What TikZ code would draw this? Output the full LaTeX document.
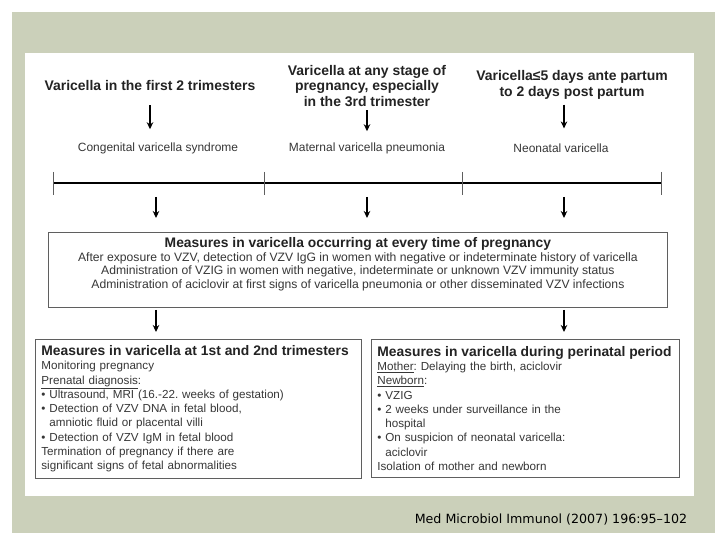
\documentclass[tikz,border=0pt]{standalone}
\usepackage{fontspec}
\setmainfont{Liberation Sans}
\newfontfamily\citefont{DejaVu Sans}
\usetikzlibrary{arrows.meta}
\frenchspacing
\definecolor{sage}{RGB}{203,208,186}
\definecolor{inkgray}{RGB}{35,35,35}
\definecolor{textgray}{RGB}{55,55,55}
\definecolor{framegray}{RGB}{95,95,95}
\tikzset{
  heading/.style={font=\fontsize{14}{16}\selectfont\bfseries, text=inkgray, align=center, inner sep=0pt},
  effect/.style={font=\fontsize{12}{14}\selectfont, text=textgray, inner sep=0pt},
  measurebox/.style={draw=framegray, line width=0.8bp, fill=white, text=textgray},
  arr/.style={-{Stealth[length=7bp,width=6.5bp]}, line width=1.6bp, black},
}
\newcommand{\boxtitle}[1]{{\fontsize{13.9}{15}\selectfont\bfseries\color{inkgray}#1}}
\begin{document}
\begin{tikzpicture}[x=1bp,y=-1bp,line cap=butt]
\useasboundingbox (0,0) rectangle (728,546);
\fill[white] (0,0) rectangle (728,546);
\fill[sage] (12,12) rectangle (715,533);
\fill[white] (25,53) rectangle (694,496);
% headings and effects
\node[heading] (h1) at (150,86) {Varicella in the first 2 trimesters};
\node[heading] (h2) at (367,86) {Varicella at any stage of\\pregnancy, especially\\in the 3rd trimester};
\node[heading] (h3) at (572,85) {Varicella≤5 days ante partum\\to 2 days post partum};
\node[effect] (s1) at (158,148) {Congenital varicella syndrome};
\node[effect] (s2) at (367,148) {Maternal varicella pneumonia};
\node[effect] (s3) at (561,148) {Neonatal varicella};
\draw[arr, shorten <=14bp, shorten >=13bp] (h1.south) -- (h1.south |- s1.north);
\draw[arr, shorten <=3bp, shorten >=11bp] (h2.south) -- (h2.south |- s2.north);
\draw[arr, shorten <=5bp, shorten >=15bp] ([xshift=-8bp]h3.south) -- ([xshift=-8bp]h3.south |- s3.north);
% time line
\path
(53,183) coordinate (t0)
(264,183) coordinate (t1)
(462,183) coordinate (t2)
(661,183) coordinate (t3)
(156,183) coordinate (d1)
(367,183) coordinate (d2)
(564,183) coordinate (d3)
;
\draw[line width=2.4bp] (t0) -- (t3);
\foreach \t in {t0,t1,t2,t3}
\draw[framegray, line width=0.8bp] ([yshift=11bp]\t) -- ([yshift=-12bp]\t);
% measures
\node[measurebox, anchor=north west, minimum width=619bp, minimum height=75bp, inner sep=0pt] (every) at (48,232) {};
\node[anchor=north, inner sep=0pt, align=center, text=textgray, font=\fontsize{12.2}{13.5}\selectfont] (everytext) at ([yshift=-5.5bp]every.north)
{\boxtitle{Measures in varicella occurring at every time of pregnancy}\\
After exposure to VZV, detection of VZV IgG in women with negative or indeterminate history of varicella\\
Administration of VZIG in women with negative, indeterminate or unknown VZV immunity status\\
Administration of aciclovir at first signs of varicella pneumonia or other disseminated VZV infections};
\foreach \d in {d1,d2,d3}
\draw[arr, shorten <=14bp, shorten >=14bp] (\d) -- (\d |- every.north);
\node[measurebox, anchor=north west, text width=314bp, minimum height=139bp, inner xsep=6bp, align=left, font=\fontsize{11.7}{14.3}\selectfont] (early) at (35,339)
{\boxtitle{Measures in varicella at 1st and 2nd trimesters}\\
Monitoring pregnancy\\
\underline{Prenatal diagnosis}:\\
• Ultrasound, MRI (16.-22. weeks of gestation)\\
• Detection of VZV DNA in fetal blood,\\
\phantom{• }amniotic fluid or placental villi\\
• Detection of VZV IgM in fetal blood\\
Termination of pregnancy if there are\\
significant signs of fetal abnormalities};
\node[measurebox, anchor=north west, text width=296bp, minimum height=138bp, inner xsep=6bp, align=left, font=\fontsize{11.7}{14.3}\selectfont] (late) at (371,339)
{\boxtitle{Measures in varicella during perinatal period}\\
\underline{Mother}: Delaying the birth, aciclovir\\
\underline{Newborn}:\\
• VZIG\\
• 2 weeks under surveillance in the\\
\phantom{• }hospital\\
• On suspicion of neonatal varicella:\\
\phantom{• }aciclovir\\
Isolation of mother and newborn};
\draw[arr, shorten <=2bp, shorten >=7bp] (every.south -| d1) -- (d1 |- early.north);
\draw[arr, shorten <=2bp, shorten >=7bp] (every.south -| d3) -- (d3 |- late.north);
% source
\node[font=\citefont\fontsize{12.7}{14}\selectfont, inner sep=0pt] (cite) at (551,520) {Med Microbiol Immunol (2007) 196:95–102};
\end{tikzpicture}
\end{document}
